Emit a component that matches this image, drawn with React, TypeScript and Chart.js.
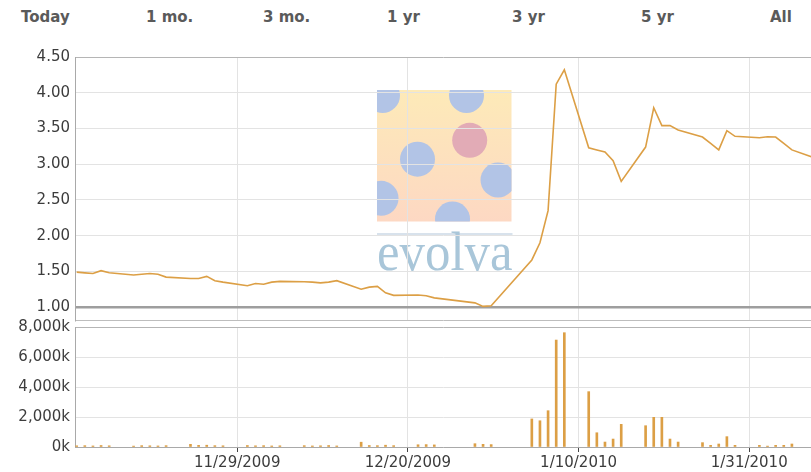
import React, { useEffect, useRef } from 'react';
import { Chart, registerables } from 'chart.js';

Chart.register(...registerables);

// ---------- data ----------
const rangeLabels = ['Today', '1 mo.', '3 mo.', '1 yr', '3 yr', '5 yr', 'All'];
const rangeLabelLeft = [21, 146, 263, 387, 512, 641, 770];

const tradingDays = [
  '2009-11-09', '2009-11-10', '2009-11-11', '2009-11-12', '2009-11-13',
  '2009-11-16', '2009-11-17', '2009-11-18', '2009-11-19', '2009-11-20',
  '2009-11-23', '2009-11-24', '2009-11-25', '2009-11-26', '2009-11-27',
  '2009-11-30', '2009-12-01', '2009-12-02', '2009-12-03', '2009-12-04',
  '2009-12-07', '2009-12-08', '2009-12-09', '2009-12-10', '2009-12-11',
  '2009-12-14', '2009-12-15', '2009-12-16', '2009-12-17', '2009-12-18',
  '2009-12-21', '2009-12-22', '2009-12-23',
  '2009-12-28', '2009-12-29', '2009-12-30',
  '2010-01-04', '2010-01-05', '2010-01-06', '2010-01-07', '2010-01-08',
  '2010-01-11', '2010-01-12', '2010-01-13', '2010-01-14', '2010-01-15',
  '2010-01-18', '2010-01-19', '2010-01-20', '2010-01-21', '2010-01-22',
  '2010-01-25', '2010-01-26', '2010-01-27', '2010-01-28', '2010-01-29',
  '2010-02-01', '2010-02-02', '2010-02-03', '2010-02-04', '2010-02-05',
  '2010-02-08',
];

const prices = [
  1.49, 1.48, 1.47, 1.51, 1.48,
  1.45, 1.46, 1.47, 1.46, 1.42,
  1.40, 1.40, 1.43, 1.37, 1.35,
  1.30, 1.33, 1.32, 1.35, 1.36,
  1.355, 1.35, 1.34, 1.35, 1.37,
  1.25, 1.28, 1.29, 1.20, 1.165,
  1.17, 1.16, 1.13,
  1.06, 1.01, 1.02,
  1.66, 1.90, 2.35, 4.12, 4.32,
  3.23, 3.20, 3.17, 3.05, 2.76,
  3.24, 3.79, 3.54, 3.54, 3.48,
  3.38, 3.29, 3.20, 3.47, 3.39,
  3.37, 3.385, 3.38, 3.29, 3.20,
  3.08,
];

// volume in thousands of shares
const volumesK = [
  80, 90, 70, 100, 80,
  60, 90, 80, 70, 90,
  180, 110, 120, 90, 80,
  100, 80, 90, 70, 80,
  90, 70, 80, 100, 70,
  320, 100, 90, 120, 90,
  150, 160, 140,
  220, 180, 160,
  1870, 1750, 2420, 7130, 7620,
  3690, 950, 330, 530, 1510,
  1420, 1980, 1980, 530, 330,
  290, 110, 200, 690, 110,
  110, 60, 110, 110, 200,
  150,
];

const priceTicks = [1.0, 1.5, 2.0, 2.5, 3.0, 3.5, 4.0, 4.5];
const volumeTicksK = [0, 2000, 4000, 6000, 8000];
const dateTicks = ['2009-11-29', '2009-12-20', '2010-01-10', '2010-01-31'];

// ---------- helpers / styles ----------
const LINE_COLOR = '#dc9f45';
const GRID = '#e3e3e3';
const AXIS = '#a9a9a9';
const FONT = '"DejaVu Sans", Verdana, sans-serif';
const SAMPLE_OFFSET = 0.25; // quotes stamped at 06:00

const toDay = (s: string) => {
  const [y, m, d] = s.split('-').map(Number);
  return Date.UTC(y, m - 1, d) / 86400000;
};
const fmtDate = (v: number) => {
  const dt = new Date(Math.round(v) * 86400000);
  return `${dt.getUTCMonth() + 1}/${dt.getUTCDate()}/${dt.getUTCFullYear()}`;
};
const X_MIN = toDay('2009-11-09') + 1 / 24;
const X_MAX = toDay('2010-02-07') + 0.6;

const xTicks = (s: any) => {
  s.ticks = dateTicks.map((d) => ({ value: toDay(d) }));
};

const logoPlugin = {
  id: 'evolvaLogo',
  beforeDraw(chart: any) {
    const { ctx, chartArea } = chart;
    const L = chartArea.left + 302;
    const T = chartArea.top + 33;
    const W = 134.5;
    const H = 131.5;
    ctx.save();
    const g = ctx.createLinearGradient(0, T, 0, T + H);
    g.addColorStop(0, '#fdeab8');
    g.addColorStop(1, '#fdd8c3');
    ctx.fillStyle = g;
    ctx.fillRect(L, T, W, H);
    ctx.beginPath();
    ctx.rect(L, T, W, H);
    ctx.clip();
    const circles: [number, number, string][] = [
      [5.5, 5.5, '#b2c4e6'],
      [89.5, 5.5, '#b2c4e6'],
      [92.7, 50.3, '#e2abb6'],
      [40.5, 69.2, '#b2c4e6'],
      [121, 90, '#b2c4e6'],
      [4, 108.3, '#b2c4e6'],
      [75.5, 129, '#b2c4e6'],
    ];
    for (const [cx, cy, col] of circles) {
      ctx.beginPath();
      ctx.arc(L + cx, T + cy, 17.5, 0, Math.PI * 2);
      ctx.fillStyle = col;
      ctx.fill();
    }
    ctx.restore();
    ctx.save();
    ctx.strokeStyle = '#cbd9e6';
    ctx.lineWidth = 1.5;
    ctx.beginPath();
    ctx.moveTo(L, T + 144);
    ctx.lineTo(L + W + 1, T + 144);
    ctx.stroke();
    ctx.fillStyle = '#a9c6d9';
    ctx.font = '54px "Liberation Serif", "DejaVu Serif", serif';
    ctx.textBaseline = 'alphabetic';
    ctx.fillText('evolva', L, T + 180, W + 1);
    ctx.restore();
  },
};

const fixY = (s: any) => {
  s.width = 75;
  s.paddingTop = 0;
  s.paddingBottom = 0;
};

export default function App() {
  const priceRef = useRef<HTMLCanvasElement>(null);
  const volRef = useRef<HTMLCanvasElement>(null);

  useEffect(() => {
    const priceChart = new Chart(priceRef.current!, {
      type: 'line',
      data: {
        datasets: [
          {
            data: tradingDays.map((d, i) => ({ x: toDay(d) + SAMPLE_OFFSET, y: prices[i] })),
            borderColor: LINE_COLOR,
            borderWidth: 1.6,
            pointRadius: 0,
            tension: 0,
            fill: false,
          },
        ],
      },
      options: {
        animation: false,
        responsive: false,
        maintainAspectRatio: false,
        layout: { padding: { top: 17, bottom: 2, left: 0, right: 0 } },
        plugins: { legend: { display: false }, tooltip: { enabled: false } },
        scales: {
          x: {
            type: 'linear',
            min: X_MIN,
            max: X_MAX,
            afterBuildTicks: xTicks,
            afterFit: (s: any) => {
              s.height = 0;
              s.paddingLeft = 0;
              s.paddingRight = 0;
            },
            ticks: { display: false },
            grid: { color: GRID, drawTicks: false },
            border: { display: true, color: '#bdbdbd' },
          },
          y: {
            type: 'linear',
            min: 0.82,
            max: 4.5,
            afterBuildTicks: (s: any) => {
              s.ticks = priceTicks.map((v) => ({ value: v }));
            },
            afterFit: fixY,
            ticks: {
              callback: (v: any) => Number(v).toFixed(2),
              font: { family: FONT, size: 15 },
              color: '#3c3c3c',
              padding: 5,
            },
            grid: {
              drawTicks: false,
              color: (c: any) =>
                c.tick && c.tick.value === 1 ? '#9e9e9e' : c.tick && c.tick.value === 4.5 ? '#b5b5b5' : GRID,
              lineWidth: (c: any) => (c.tick && c.tick.value === 1 ? 2.5 : 1),
            },
            border: { color: AXIS },
          },
        },
      },
      plugins: [logoPlugin],
    } as any);

    const volChart = new Chart(volRef.current!, {
      type: 'bar',
      data: {
        datasets: [
          {
            data: tradingDays.map((d, i) => ({ x: toDay(d) + SAMPLE_OFFSET, y: volumesK[i] })),
            backgroundColor: LINE_COLOR,
            barThickness: 2,
            borderWidth: 0,
          },
        ],
      },
      options: {
        animation: false,
        responsive: false,
        maintainAspectRatio: false,
        layout: { padding: { top: 15, bottom: 0, left: 0, right: 0 } },
        plugins: { legend: { display: false }, tooltip: { enabled: false } },
        scales: {
          x: {
            type: 'linear',
            min: X_MIN,
            max: X_MAX,
            offset: false,
            afterBuildTicks: xTicks,
            afterFit: (s: any) => {
              s.height = 25;
            },
            ticks: {
              callback: (v: any) => fmtDate(Number(v)),
              font: { family: FONT, size: 15 },
              color: '#3c3c3c',
              padding: 2,
              maxRotation: 0,
              autoSkip: false,
            },
            grid: { color: GRID, tickColor: '#444', tickLength: 5, offset: false },
            border: { color: AXIS },
          },
          y: {
            type: 'linear',
            min: 0,
            max: 8000,
            afterBuildTicks: (s: any) => {
              s.ticks = volumeTicksK.map((v) => ({ value: v }));
            },
            afterFit: (s: any) => {
              s.width = 75;
            },
            ticks: {
              callback: (v: any) => `${Number(v).toLocaleString('en-US')}k`,
              font: { family: FONT, size: 15 },
              color: '#3c3c3c',
              padding: 5,
            },
            grid: {
              drawTicks: false,
              color: (c: any) => (c.tick && c.tick.value === 8000 ? '#b5b5b5' : GRID),
            },
            border: { color: AXIS },
          },
        },
      },
    } as any);

    return () => {
      priceChart.destroy();
      volChart.destroy();
    };
  }, []);

  return (
    <div
      style={{
        position: 'absolute',
        left: 0,
        top: 0,
        width: 811,
        height: 472,
        background: '#fff',
        overflow: 'hidden',
      }}
    >
      {rangeLabels.map((t, i) => (
        <span
          key={t}
          style={{
            position: 'absolute',
            left: rangeLabelLeft[i],
            top: 8,
            font: `bold 15px ${FONT}`,
            color: '#5a5a5a',
            whiteSpace: 'nowrap',
          }}
        >
          {t}
        </span>
      ))}
      <canvas
        ref={priceRef}
        width={811}
        height={282}
        style={{ position: 'absolute', left: 0, top: 40, width: 811, height: 282 }}
      />
      <canvas
        ref={volRef}
        width={811}
        height={160}
        style={{ position: 'absolute', left: 0, top: 312, width: 811, height: 160 }}
      />
    </div>
  );
}
